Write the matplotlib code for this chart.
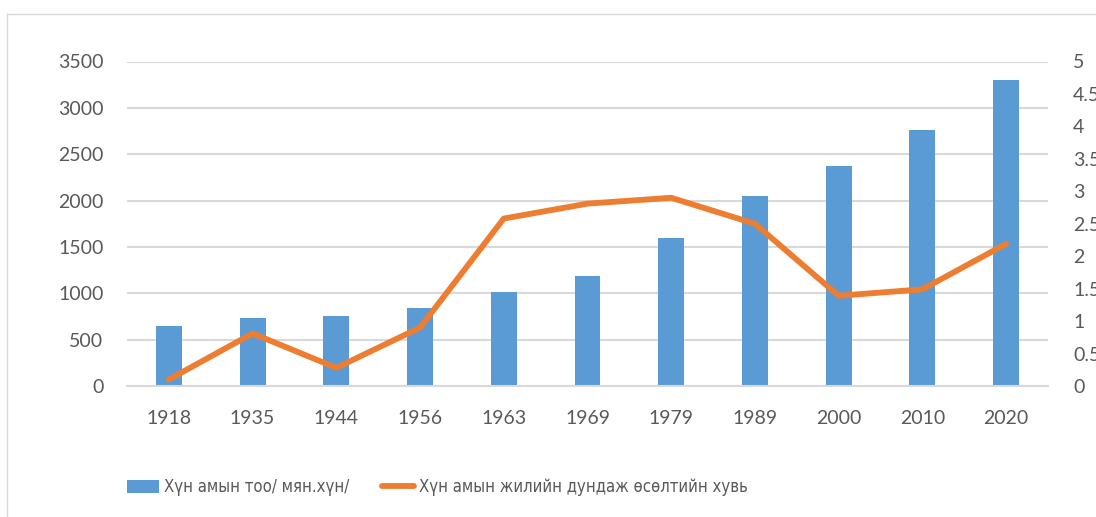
import numpy as np
import matplotlib.pyplot as plt
from matplotlib.lines import Line2D
from matplotlib import font_manager as fm

# өгөгдөл
years = ["1918", "1935", "1944", "1956", "1963", "1969", "1979", "1989", "2000", "2010", "2020"]
population = [650, 735, 760, 845, 1017, 1190, 1595, 2044, 2373, 2760, 3300]
growth = [0.1, 0.81, 0.28, 0.9, 2.58, 2.81, 2.9, 2.5, 1.39, 1.49, 2.19]

bar_label = "Хүн амын тоо/ мян.хүн/"
line_label = "Хүн амын жилийн дундаж өсөлтийн хувь"

text_color = "#595959"
grid_color = "#d9d9d9"
plt.rcParams["font.family"] = ["Lato", "DejaVu Sans"]


# тайлбарын фонт: нарийн фонт байвал түүнийг авна
def legend_font():
    try:
        fm.findfont(fm.FontProperties(family="Liberation Sans Narrow"), fallback_to_default=False)
        return {"family": ["Liberation Sans Narrow", "DejaVu Sans"], "size": 14}
    except ValueError:
        pass
    path = fm.findfont(fm.FontProperties(family="DejaVu Sans", stretch="condensed"))
    if "Condensed" in path:
        return {"family": ["DejaVu Sans"], "stretch": "condensed", "size": 12}
    return {"family": ["Roboto", "DejaVu Sans"], "size": 11.5}


fig = plt.figure(figsize=(10.96, 5.17), dpi=100)
ax = fig.add_axes([127 / 1096, 1 - 386 / 517, (1048 - 127) / 1096, (386 - 61.5) / 517])

x = np.arange(len(years))
bars = ax.bar(x, population, width=0.31, color="#5B9BD5", zorder=2)
ax.set_xlim(-0.5, len(years) - 0.5)
ax.set_ylim(0, 3500)
ax.set_yticks(np.arange(0, 3501, 500))
ax.set_xticks(x)
ax.set_xticklabels(years)
ax.grid(axis="y", color=grid_color, linewidth=1.5, zorder=0)
ax.set_axisbelow(True)
for s in ["top", "right", "left"]:
    ax.spines[s].set_visible(False)
ax.spines["bottom"].set_color(grid_color)
ax.spines["bottom"].set_linewidth(1.5)
ax.tick_params(axis="both", length=0, labelsize=14, labelcolor=text_color)
ax.tick_params(axis="y", pad=17)
ax.tick_params(axis="x", pad=17)

ax2 = ax.twinx()
line, = ax2.plot(x, growth, color="#ED7D31", linewidth=4.2, solid_capstyle="round", zorder=3)
ax2.set_ylim(0, 5)
ax2.set_yticks(np.arange(0, 5.01, 0.5))
ax2.set_yticklabels(["0", "0.5", "1", "1.5", "2", "2.5", "3", "3.5", "4", "4.5", "5"])
for s in ax2.spines.values():
    s.set_visible(False)
ax2.tick_params(axis="y", length=0, labelsize=14, labelcolor=text_color, pad=18)

leg = fig.legend([bars, line], [bar_label, line_label], loc="center left",
                 bbox_to_anchor=(127 / 1096, 1 - 487 / 517), ncol=2, frameon=False,
                 handlelength=1.9, handleheight=0.8, handletextpad=0.3, columnspacing=2.0,
                 borderpad=0, borderaxespad=0, prop=legend_font())
for t in leg.get_texts():
    t.set_color(text_color)

# хүрээ
fig.add_artist(Line2D([7 / 1096, 7 / 1096], [0, 1 - 14 / 517], color="#d9d9d9", linewidth=1))
fig.add_artist(Line2D([7 / 1096, 1], [1 - 14 / 517, 1 - 14 / 517], color="#d9d9d9", linewidth=1))

fig.savefig("out.png", dpi=100)
